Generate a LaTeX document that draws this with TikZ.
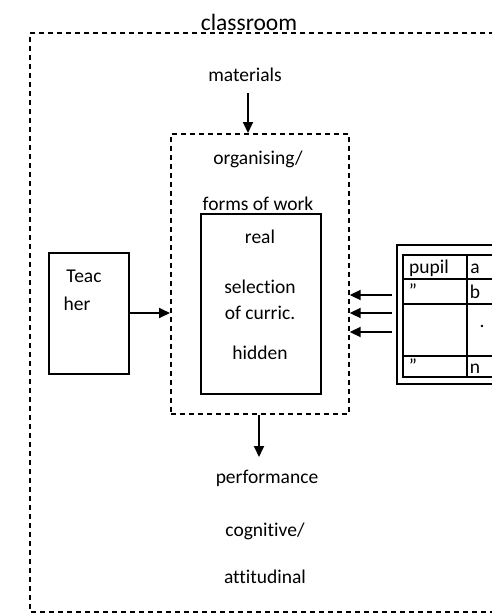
\documentclass[tikz,border=0pt]{standalone}
\usepackage{fontspec}
\setmainfont[Ligatures={NoCommon}]{Carlito}
\usetikzlibrary{arrows.meta}
\tikzset{
  dashbox/.style={draw, line width=1.7pt, dash pattern=on 5pt off 4pt},
  solidbox/.style={draw, line width=1.7pt},
  thinrule/.style={draw, line width=1.2pt},
  txt/.style={font=\fontsize{19.5}{22}\selectfont, inner sep=0pt, anchor=base},
  arr/.style={-{Triangle[length=11pt,width=10pt]}, line width=1.8pt},
}
\begin{document}
\begin{tikzpicture}[x=1pt,y=-1pt]
\useasboundingbox (0,0) rectangle (492,614);
\begin{scope}
\clip (0,0) rectangle (492,614);
% outer classroom box
\node[txt, font=\fontsize{23.5}{26}\selectfont] (classroom) at (249,30) {classroom};
\draw[dashbox] (530,33) -- (30,33) -- (30,612) -- (530,612);
% materials
\node[txt] (materials) at (245,81) {materials};
\coordinate (matarr) at (248,93);
% inner dashed box
\node[dashbox, minimum width=178pt, minimum height=280pt, anchor=north west, inner sep=0pt] (org) at (170,133) {};
\draw[arr] (matarr) -- (org.north -| matarr);
\node[txt] (organising) at (258,164) {organising/};
\node[txt] (forms) at (258,210) {forms of work};
% curriculum box
\node[solidbox, minimum width=120pt, minimum height=180pt, anchor=north west, inner sep=0pt] (curr) at (200,213) {};
\node[txt] (real) at (260,243) {real};
\node[txt] (selection) at (260,293) {selection};
\node[txt] (ofcurr) at (260,319) {of curric.};
\node[txt] (hidden) at (260,359) {hidden};
% teacher box
\node[solidbox, minimum width=80pt, minimum height=121pt, anchor=north west, inner sep=0pt] (teacher) at (48,252) {};
\node[txt] (teac) at (84,282) {Teac};
\node[txt] (her) at (77,310) {her};
\draw[arr] (teacher.east |- 0,313) -- (org.west |- 0,313);
% pupil table
\draw[solidbox] (492,245) -- (397,245) -- (397,384) -- (492,384);
\draw[thinrule] (492,255) -- (403,255) -- (403,377) -- (492,377);
\draw[thinrule] (403,279) -- (492,279);
\draw[thinrule] (403,304) -- (492,304);
\draw[thinrule] (403,356) -- (492,356);
\draw[thinrule] (467,255) -- (467,377);
\node[txt] (pupil) at (429,273) {pupil};
\node[txt] (ca) at (475,273) {a};
\node[txt] (q1) at (413,297) {”};
\node[txt] (cb) at (475,298) {b};
\node[txt] (dot) at (482,327) {.};
\node[txt] (q2) at (413,372) {”};
\node[txt] (cn) at (475,373) {n};
\coordinate (p1) at (392,295);
\coordinate (p2) at (392,313);
\coordinate (p3) at (392,332);
\draw[arr] (p1) -- (org.east |- p1);
\draw[arr] (p2) -- (org.east |- p2);
\draw[arr] (p3) -- (org.east |- p3);
% performance
\coordinate (perfarr) at (259,457);
\draw[arr] (org.south -| perfarr) -- (perfarr);
\node[txt] (performance) at (267,483) {performance};
\node[txt] (cognitive) at (265,536) {cognitive/};
\node[txt] (attitudinal) at (265,583) {attitudinal};
\end{scope}
\end{tikzpicture}
\end{document}
